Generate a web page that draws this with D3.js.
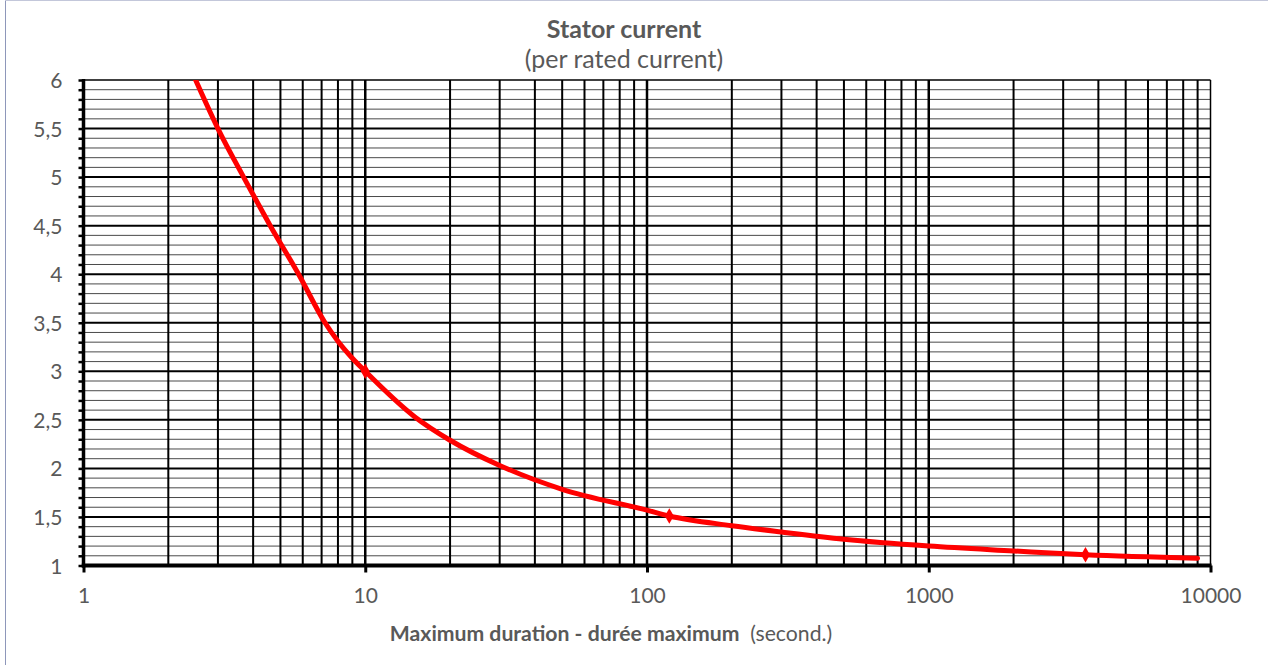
<!DOCTYPE html>
<html>
<head>
<meta charset="utf-8">
<script src="https://cdn.jsdelivr.net/npm/d3@7"></script>
<style>
  html, body { margin: 0; padding: 0; background: #fff; }
  svg { display: block; }
  text { font-family: Lato, "Open Sans", sans-serif; fill: #595959; }
</style>
</head>
<body>
<svg id="chart" width="1268" height="665"></svg>
<script>
// ---- data ----
const durations = [2.5, 3, 3.7, 4.6, 5.8, 7.2, 8, 9, 10, 15, 20, 30, 50, 100, 120, 200, 300, 500, 1000, 2000, 3600, 9000];
const currents  = [6.0, 5.5, 5.0, 4.5, 4.0, 3.5, 3.31, 3.135, 3.0, 2.53, 2.29, 2.03, 1.785, 1.57, 1.51, 1.41, 1.345, 1.27, 1.20, 1.15, 1.11, 1.075];
const markerDurations = [10, 120, 3600];
const markerCurrents  = [3.0, 1.51, 1.11];
const xTickValues = [1, 10, 100, 1000, 10000];
const yMajorTicks = [1, 1.5, 2, 2.5, 3, 3.5, 4, 4.5, 5, 5.5, 6];
const titleText = "Stator current";
const subtitleText = "(per rated current)";
const xLabelBold = "Maximum duration - durée maximum";
const xLabelRegular = "  (second.)";

// ---- layout ----
const W = 1268, H = 665;
const plot = { left: 83.5, right: 1210.5, top: 80, bottom: 565.5 };

const svg = d3.select("#chart");

// chart border
svg.append("line").attr("x1", 5.5).attr("x2", 5.5).attr("y1", 0).attr("y2", H)
  .attr("stroke", "#8e97ba").attr("stroke-width", 1);
svg.append("line").attr("x1", 5).attr("x2", W).attr("y1", 0.5).attr("y2", 0.5)
  .attr("stroke", "#c3c7da").attr("stroke-width", 1);

const x = d3.scaleLog().domain([1, 10000]).range([plot.left, plot.right]);
const y = d3.scaleLinear().domain([1, 6]).range([plot.bottom, plot.top]);

const grid = svg.append("g");

// minor horizontal gridlines (every 0.1)
const yMinor = d3.range(11, 60).map(d => d / 10).filter(v => Math.abs(v * 2 - Math.round(v * 2)) > 1e-6);
grid.selectAll("line.hminor").data(yMinor).join("line")
  .attr("x1", plot.left).attr("x2", plot.right)
  .attr("y1", d => y(d)).attr("y2", d => y(d))
  .attr("stroke", "#4a4a4a").attr("stroke-width", 1);

// major horizontal gridlines
grid.selectAll("line.hmajor").data(yMajorTicks.filter(v => v > 1)).join("line")
  .attr("x1", plot.left).attr("x2", plot.right)
  .attr("y1", d => y(d)).attr("y2", d => y(d))
  .attr("stroke", "#000").attr("stroke-width", d => d === 6 ? 1.5 : 2);

// vertical gridlines (log minors + decade majors)
const xGrid = [];
for (let dec = 1; dec < 10000; dec *= 10) {
  for (let k = 1; k <= 10; k++) {
    const v = dec * k;
    if (v > 1 && v <= 10000 && !xGrid.includes(v)) xGrid.push(v);
  }
}
grid.selectAll("line.v").data(xGrid).join("line")
  .attr("x1", d => x(d)).attr("x2", d => x(d))
  .attr("y1", plot.top).attr("y2", plot.bottom)
  .attr("stroke", "#000")
  .attr("stroke-width", d => d === 10000 ? 1.5 : (xTickValues.includes(d) ? 2.5 : 2));

// axes
const yAxisMinor = d3.axisLeft(y).tickValues(d3.range(10, 61).map(d => d / 10)).tickSize(5).tickFormat("");
const gyMinor = svg.append("g").attr("transform", `translate(${plot.left},0)`).call(yAxisMinor);
gyMinor.select(".domain").remove();
gyMinor.selectAll(".tick line").attr("stroke", "#000").attr("stroke-width", 2.5);

svg.append("line").attr("x1", plot.left).attr("x2", plot.left)
  .attr("y1", plot.top - 1).attr("y2", plot.bottom + 2).attr("stroke", "#000").attr("stroke-width", 3.5);

const commaFmt = d3.formatLocale({ decimal: ",", thousands: "", grouping: [3], currency: ["", ""] }).format("~f");
const yAxis = d3.axisLeft(y).tickValues(yMajorTicks).tickSize(0).tickPadding(21).tickFormat(commaFmt);
const gy = svg.append("g").attr("transform", `translate(${plot.left},0)`).call(yAxis);
gy.select(".domain").remove();
gy.selectAll(".tick text").attr("font-size", 21).attr("fill", "#595959")
  .style("font-family", "Lato, sans-serif").attr("dy", "0.36em");

const xAxis = d3.axisBottom(x).tickValues(xTickValues).tickSize(7).tickPadding(16)
  .tickFormat(d3.format("d"));
const gx = svg.append("g").attr("transform", `translate(0,${plot.bottom})`).call(xAxis);
gx.select(".domain").attr("stroke", "#000").attr("stroke-width", 4)
  .attr("d", `M${plot.left - 1.75},0H${plot.right + 1}`);
gx.selectAll(".tick line").attr("stroke", "#000").attr("stroke-width", 3);
gx.selectAll(".tick text").attr("font-size", 21).attr("fill", "#595959")
  .style("font-family", "Lato, sans-serif");

// curve
svg.append("clipPath").attr("id", "plotclip").append("rect")
  .attr("x", plot.left).attr("y", plot.top)
  .attr("width", plot.right - plot.left).attr("height", plot.bottom - plot.top);

const pts = durations.map((d, i) => [d, currents[i]]);
const line = d3.line().x(d => x(d[0])).y(d => y(d[1])).curve(d3.curveMonotoneX);
svg.append("path").datum(pts)
  .attr("clip-path", "url(#plotclip)")
  .attr("d", line).attr("fill", "none")
  .attr("stroke", "#ff0000").attr("stroke-width", 5)
  .attr("stroke-linejoin", "round").attr("stroke-linecap", "round");

const diamond = d3.symbol().type(d3.symbolDiamond).size(70);
svg.selectAll("path.mk").data(markerDurations.map((d, i) => [d, markerCurrents[i]])).join("path")
  .attr("class", "mk")
  .attr("d", diamond)
  .attr("transform", d => `translate(${x(d[0])},${y(d[1])})`)
  .attr("fill", "#ff0000");

// titles
svg.append("text").attr("x", 624).attr("y", 38).attr("text-anchor", "middle")
  .attr("font-size", 25).attr("font-weight", "bold")
  .text(titleText);
svg.append("text").attr("x", 624).attr("y", 68).attr("text-anchor", "middle")
  .attr("font-size", 25)
  .text(subtitleText);

const xl = svg.append("text").attr("x", 611).attr("y", 641).attr("text-anchor", "middle")
  .attr("font-size", 21.2).style("white-space", "pre")
  .attr("xml:space", "preserve");
xl.append("tspan").attr("font-weight", "bold").text(xLabelBold);
xl.append("tspan").text(xLabelRegular);
</script>
</body>
</html>
